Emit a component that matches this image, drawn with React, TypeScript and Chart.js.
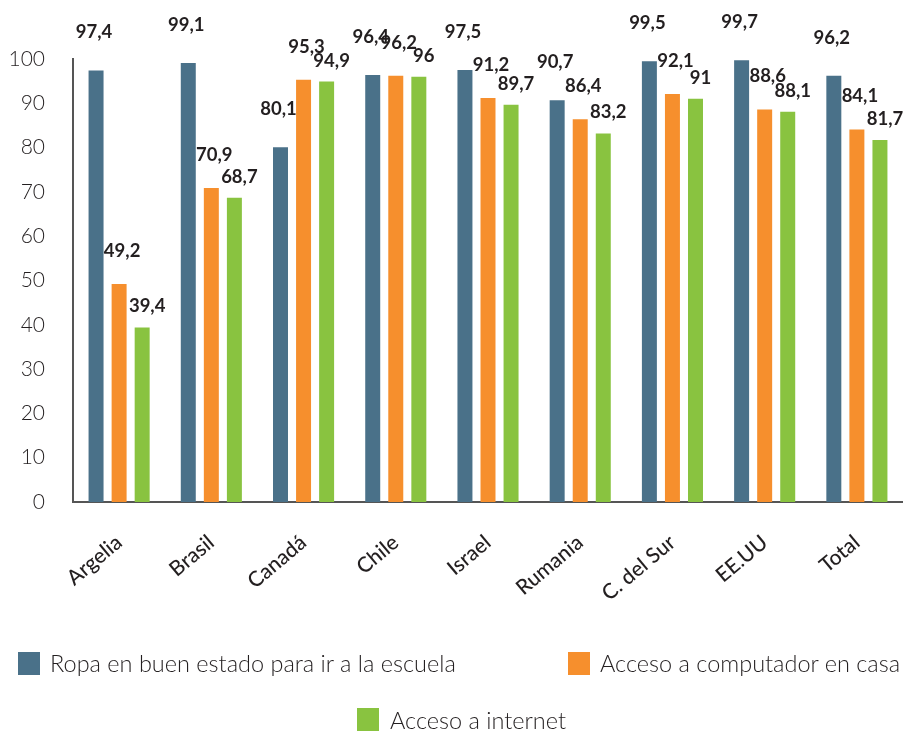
import React, { useEffect, useRef } from 'react';
import { Chart, registerables } from 'chart.js';

Chart.register(...registerables);

const categories = ['Argelia', 'Brasil', 'Canadá', 'Chile', 'Israel', 'Rumania', 'C. del Sur', 'EE.UU', 'Total'];
const ropa = [97.4, 99.1, 80.1, 96.4, 97.5, 90.7, 99.5, 99.7, 96.2];
const computador = [49.2, 70.9, 95.3, 96.2, 91.2, 86.4, 92.1, 88.6, 84.1];
const internet = [39.4, 68.7, 94.9, 96, 89.7, 83.2, 91, 88.1, 81.7];
const seriesNames = ['Ropa en buen estado para ir a la escuela', 'Acceso a computador en casa', 'Acceso a internet'];
const seriesColors = ['#4a7189', '#f68f2d', '#89c340'];
const yMin = 0;
const yMax = 100;
const yStep = 10;

const labelRise = [38, 33, 21];
const labelShift = [-2, 3, 5];

const fmt = (v: number) => String(v).replace('.', ',');

const valueLabels = {
  id: 'valueLabels',
  afterDatasetsDraw(chart: any) {
    const ctx = chart.ctx;
    ctx.save();
    ctx.font = '700 18.5px Lato';
    ctx.fillStyle = '#231f20';
    ctx.textAlign = 'center';
    ctx.textBaseline = 'middle';
    chart.data.datasets.forEach((ds: any, i: number) => {
      const meta = chart.getDatasetMeta(i);
      meta.data.forEach((bar: any, j: number) => {
        ctx.fillText(fmt(ds.data[j]), bar.x + labelShift[i], bar.y - labelRise[i]);
      });
    });
    ctx.restore();
  },
};

export default function App() {
  const ref = useRef<HTMLCanvasElement | null>(null);

  useEffect(() => {
    if (!ref.current) return;
    const chart = new Chart(ref.current, {
      type: 'bar',
      data: {
        labels: categories,
        datasets: [ropa, computador, internet].map((d, i) => ({
          label: seriesNames[i],
          data: d,
          backgroundColor: seriesColors[i],
          borderWidth: 0,
          categoryPercentage: 0.75,
          barPercentage: 0.65,
        })),
      },
      options: {
        animation: false,
        responsive: false,
        devicePixelRatio: 1,
        layout: { padding: { top: 59, left: 0, right: 0, bottom: 0 } },
        plugins: {
          legend: { display: false },
          tooltip: { enabled: false },
        },
        scales: {
          x: {
            grid: { display: false },
            border: { display: true, color: '#555', width: 2 },
            ticks: {
              color: '#231f20',
              font: { family: 'Lato', size: 21, weight: '500' },
              maxRotation: 40,
              minRotation: 40,
              padding: 20,
            },
            afterFit: (scale: any) => {
              scale.height = 229;
            },
          },
          y: {
            min: yMin,
            max: yMax,
            grid: { display: false },
            border: { display: true, color: '#555', width: 2 },
            ticks: {
              stepSize: yStep,
              color: '#231f20',
              font: { family: 'Lato', size: 21, weight: '300' },
              padding: 20,
            },
            afterFit: (scale: any) => {
              scale.width = 73;
            },
          },
        },
      },
      plugins: [valueLabels],
    });
    return () => chart.destroy();
  }, []);

  const legendText: React.CSSProperties = {
    position: 'absolute',
    fontFamily: 'Lato',
    fontSize: 23.5,
    fontWeight: 300,
    color: '#231f20',
    whiteSpace: 'nowrap',
    lineHeight: '24px',
  };
  const box = (color: string, left: number, top: number): React.CSSProperties => ({
    position: 'absolute',
    left,
    top,
    width: 22,
    height: 23,
    background: color,
  });

  return (
    <div style={{ position: 'absolute', left: 0, top: 0, width: 903, height: 731, overflow: 'hidden', background: '#fff' }}>
      <canvas ref={ref} width={903} height={731} style={{ position: 'absolute', left: 0, top: 0 }} />
      <div style={box(seriesColors[0], 18, 652)} />
      <div style={{ ...legendText, left: 50, top: 651 }}>{seriesNames[0]}</div>
      <div style={box(seriesColors[1], 568, 652)} />
      <div style={{ ...legendText, left: 600, top: 651 }}>{seriesNames[1]}</div>
      <div style={box(seriesColors[2], 357, 708)} />
      <div style={{ ...legendText, left: 390, top: 708 }}>{seriesNames[2]}</div>
    </div>
  );
}
